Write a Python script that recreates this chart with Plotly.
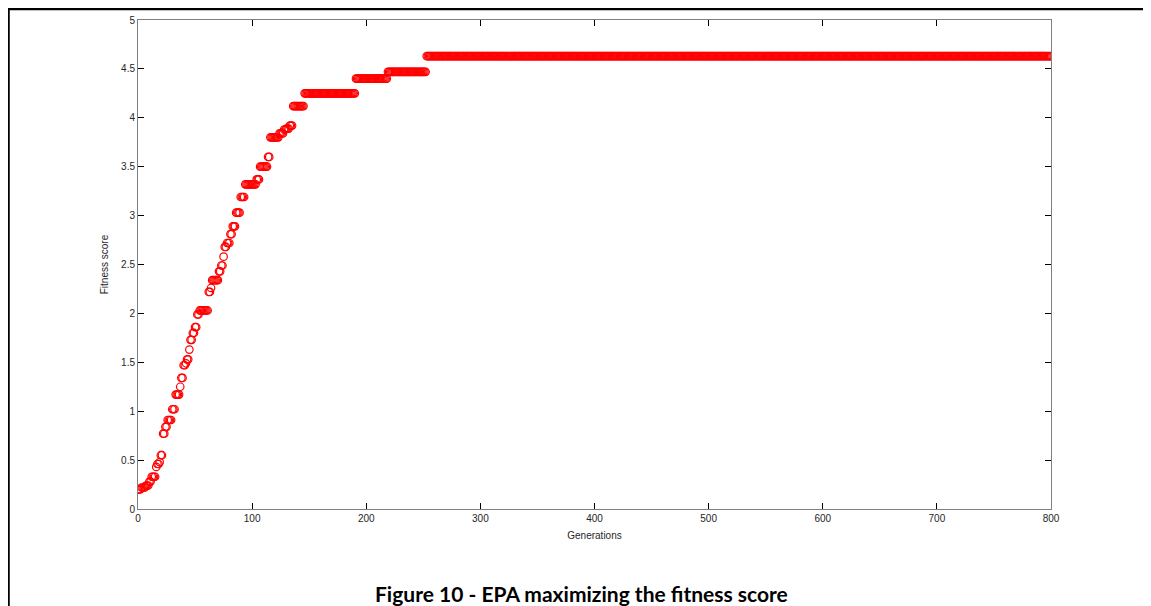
import plotly.graph_objects as go

# Step runs: generation where each fitness level begins, and its value
run_start_gen = [0, 3, 7, 10, 12, 16, 17, 19, 20, 22, 24, 26, 30, 33, 37, 38, 40, 42, 43,
                 45, 46, 48, 50, 52, 54, 62, 64, 65, 71, 73, 75, 76, 78, 81, 83, 86, 90,
                 94, 104, 107, 114, 116, 124, 128, 130, 133, 136, 146, 191, 219, 253]
run_value = [0.20, 0.22, 0.24, 0.28, 0.33, 0.43, 0.46, 0.48, 0.55, 0.77, 0.84, 0.91, 1.02,
             1.17, 1.25, 1.34, 1.47, 1.49, 1.53, 1.63, 1.73, 1.80, 1.86, 1.99, 2.03, 2.22,
             2.26, 2.34, 2.43, 2.49, 2.58, 2.68, 2.72, 2.81, 2.89, 3.03, 3.19, 3.32, 3.37,
             3.50, 3.60, 3.80, 3.84, 3.88, 3.89, 3.92, 4.12, 4.25, 4.40, 4.47, 4.63]
last_gen = 800

generations = list(range(0, last_gen + 1))
fitness = []
for g in generations:
    v = run_value[0]
    for s, val in zip(run_start_gen, run_value):
        if g >= s:
            v = val
    fitness.append(v)

x_ticks = [0, 100, 200, 300, 400, 500, 600, 700, 800]
y_ticks = [0, 0.5, 1, 1.5, 2, 2.5, 3, 3.5, 4, 4.5, 5]
y_tick_labels = ["0", "0.5", "1", "1.5", "2", "2.5", "3", "3.5", "4", "4.5", "5"]

# figure is placed by the page with an 8px body margin
W, H = 1135, 598
L, R, T, B = 130, 92, 12, 97
PW, PH = W - L - R, H - T - B


def px_x(p):
    return (p - L) / PW


def px_y(p):
    return (H - B - p) / PH


fig = go.Figure()
fig.add_trace(go.Scatter(
    x=generations, y=fitness, mode="markers",
    marker=dict(symbol="circle-open", size=7.5, color="#ff0000", line=dict(width=1.2, color="#ff0000")),
    showlegend=False, hoverinfo="x+y",
))

axis_common = dict(
    showgrid=False, zeroline=False, showline=True, linecolor="#808080", linewidth=1,
    mirror="ticks", ticks="inside", ticklen=6, tickcolor="#000000", tickwidth=1,
    automargin=False,
    tickfont=dict(family="Liberation Sans, Arial, sans-serif", size=10, color="#262626"),
)

fig.update_layout(
    width=W, height=H, autosize=False,
    margin=dict(l=L, r=R, t=T, b=B, autoexpand=False),
    paper_bgcolor="white", plot_bgcolor="white",
    xaxis=dict(range=[0, 800], tickvals=x_ticks, ticktext=[str(t) for t in x_ticks],
               title=dict(text="Generations", standoff=8,
                          font=dict(family="Liberation Sans, Arial, sans-serif", size=10, color="#262626")),
               **axis_common),
    yaxis=dict(range=[0, 5], tickvals=y_ticks, ticktext=y_tick_labels,
               title=dict(text="Fitness score", standoff=10,
                          font=dict(family="Liberation Sans, Arial, sans-serif", size=10, color="#262626")),
               **axis_common),
    annotations=[dict(
        text="<b>Figure 10 - EPA maximizing the fitness score</b>",
        xref="paper", yref="paper", x=px_x(573), y=px_y(585),
        xanchor="center", yanchor="middle", showarrow=False,
        font=dict(family="Lato, Carlito, sans-serif", size=21, color="#000000"),
    )],
    shapes=[
        dict(type="line", xref="paper", yref="paper",
             x0=px_x(0), x1=px_x(W),
             y0=px_y(1), y1=px_y(1),
             line=dict(color="black", width=2.5)),
        dict(type="line", xref="paper", yref="paper",
             x0=px_x(0.5), x1=px_x(0.5),
             y0=px_y(0), y1=px_y(H),
             line=dict(color="black", width=2.5)),
    ],
)

fig.write_html("out.html")
